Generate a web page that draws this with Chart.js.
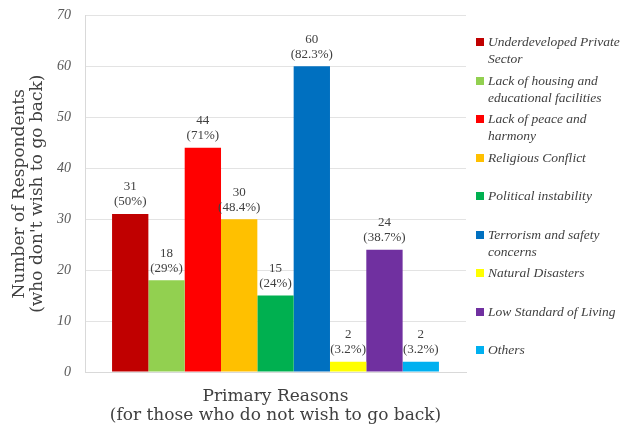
<!DOCTYPE html>
<html>
<head>
<meta charset="utf-8">
<script src="https://cdn.jsdelivr.net/npm/chart.js@4.4.0/dist/chart.umd.min.js"></script>
<style>
  html, body { margin: 0; padding: 0; background: #fff; }
  #wrap { position: relative; width: 623px; height: 428px; overflow: hidden; }
  #legend { position: absolute; left: 476px; top: 33px; font-family: "Liberation Serif", "Times New Roman", Times, serif; font-style: italic; font-size: 13.5px; color: #404040; }
  .item { position: relative; height: 38.5px; padding-left: 12px; line-height: 17px; white-space: nowrap; }
  .sw { position: absolute; left: 0; top: 5px; width: 8px; height: 8px; }
</style>
</head>
<body>
<div id="wrap">
  <canvas id="c" width="623" height="428"></canvas>
  <div id="legend"></div>
</div>
<script>
// Reasons given (legend entries, split into their display lines)
const reasons = [
  ['Underdeveloped Private', 'Sector'],
  ['Lack of housing and', 'educational facilities'],
  ['Lack of peace and', 'harmony'],
  ['Religious Conflict'],
  ['Political instability'],
  ['Terrorism and safety', 'concerns'],
  ['Natural Disasters'],
  ['Low Standard of Living'],
  ['Others']
];
// Number of respondents per reason
const respondents = [31, 18, 44, 30, 15, 60, 2, 24, 2];
// Share of respondents per reason
const shares = ['50%', '29%', '71%', '48.4%', '24%', '82.3%', '3.2%', '38.7%', '3.2%'];
const barColors = ['#C00000', '#92D050', '#FF0000', '#FFC000', '#00B050', '#0070C0', '#FFFF00', '#7030A0', '#00B0F0'];
const yMax = 70;
const yStep = 10;

const TIMES = '"Liberation Serif", "Times New Roman", Times, serif';
const TITLE_FONT = '"DejaVu Serif", serif';

const datasets = reasons.map((r, i) => ({
  label: r.join(' '),
  data: [respondents[i]],
  backgroundColor: barColors[i],
  borderWidth: 0,
  barPercentage: 1.0,
  categoryPercentage: 0.858
}));

// Two-line value labels above each bar: count and share
const valueLabels = {
  id: 'valueLabels',
  afterDatasetsDraw(chart) {
    const ctx = chart.ctx;
    ctx.save();
    ctx.font = '13px ' + TIMES;
    ctx.fillStyle = '#404040';
    ctx.textAlign = 'center';
    ctx.textBaseline = 'middle';
    chart.data.datasets.forEach((ds, i) => {
      const bar = chart.getDatasetMeta(i).data[0];
      ctx.fillText(String(respondents[i]), bar.x, bar.y - 27);
      ctx.fillText('(' + shares[i] + ')', bar.x, bar.y - 12);
    });
    ctx.restore();
  }
};

new Chart(document.getElementById('c'), {
  type: 'bar',
  data: { labels: [''], datasets },
  options: {
    responsive: false,
    animation: false,
    layout: { padding: { top: 0, right: 157, left: 0, bottom: 0 } },
    plugins: { legend: { display: false }, tooltip: { enabled: false } },
    scales: {
      x: {
        ticks: { display: false },
        grid: { display: false },
        border: { color: '#d9d9d9' },
        afterFit(s) { s.height = 56; },
        title: {
          display: true,
          text: ['Primary Reasons', '(for those who do not wish to go back)'],
          font: { family: TITLE_FONT, size: 17, lineHeight: 1.1 },
          color: '#404040',
          padding: { top: 0, bottom: 3 }
        }
      },
      y: {
        min: 0,
        max: yMax,
        ticks: {
          stepSize: yStep,
          padding: 7,
          color: '#595959',
          font: { family: TIMES, size: 14, style: 'italic' }
        },
        grid: { color: '#e3e3e3', drawTicks: true, tickLength: 7, tickColor: 'rgba(0,0,0,0)' },
        border: { color: '#d9d9d9' },
        afterFit(s) { s.width = 85; },
        title: {
          display: true,
          text: ['Number of Respondents', "(who don't wish to go back)"],
          font: { family: TITLE_FONT, size: 17, lineHeight: 1.1 },
          color: '#404040',
          padding: { top: 10, bottom: 0 }
        }
      }
    }
  },
  plugins: [valueLabels]
});

// Legend listing each reason with its colour swatch
const legend = document.getElementById('legend');
reasons.forEach((r, i) => {
  const item = document.createElement('div');
  item.className = 'item';
  const sw = document.createElement('span');
  sw.className = 'sw';
  sw.style.background = barColors[i];
  item.appendChild(sw);
  r.forEach((line, k) => {
    if (k) item.appendChild(document.createElement('br'));
    item.appendChild(document.createTextNode(line));
  });
  legend.appendChild(item);
});
</script>
</body>
</html>
